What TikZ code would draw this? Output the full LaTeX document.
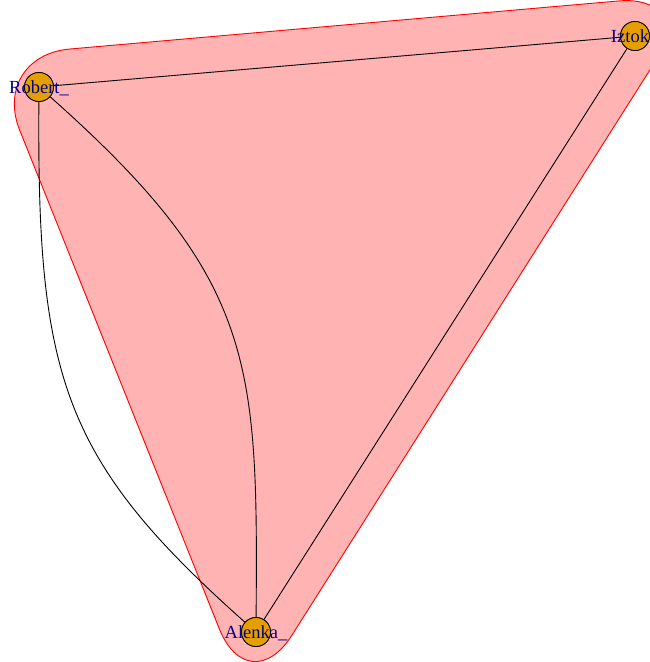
\documentclass[tikz,border=0pt]{standalone}
\usepackage{fontspec}
\setmainfont{Liberation Serif}
\definecolor{nodeor}{HTML}{E69F00}
\definecolor{hullfill}{HTML}{FFB3B3}
\definecolor{labblue}{HTML}{00008B}
\tikzset{
  vert/.style={circle, draw=black, fill=nodeor, minimum size=29pt, inner sep=0pt, line width=0.8pt},
  lab/.style={text=labblue, font=\fontsize{18.5}{18.5}\selectfont, inner sep=0pt, anchor=base},
  edge/.style={draw=black, line width=0.9pt},
  hull/.style={draw=red, fill=hullfill, line width=0.9pt, rounded corners=80pt}
}
\begin{document}
\begin{tikzpicture}[x=1pt,y=-1pt]
\useasboundingbox (0,0) rectangle (649,662);
\fill[white] (0,0) rectangle (649,662);
% hull
\path[hull] (-10,56) -- (698,-6) -- (249,703) -- cycle;
% nodes
\node[vert] (R) at (39,87) {};
\node[vert] (I) at (635,36) {};
\node[vert] (A) at (256,632) {};
% edges
\draw[edge] (R.center) -- (I.center);
\draw[edge] (I.center) -- (A.center);
\draw[edge] (R.center) .. controls (260,280) and (258,360) .. (A.center);
\draw[edge] (R.center) .. controls (36,380) and (60,460) .. (A.center);
% redraw nodes on top
\node[vert] at (R) {};
\node[vert] at (I) {};
\node[vert] at (A) {};
% labels
\node[lab] (lR) at (39,93.5) {Robert\_};
\node[lab] (lI) at (630,42.5) {Iztok};
\node[lab] (lA) at (256,638.5) {Alenka\_};
\end{tikzpicture}
\end{document}
